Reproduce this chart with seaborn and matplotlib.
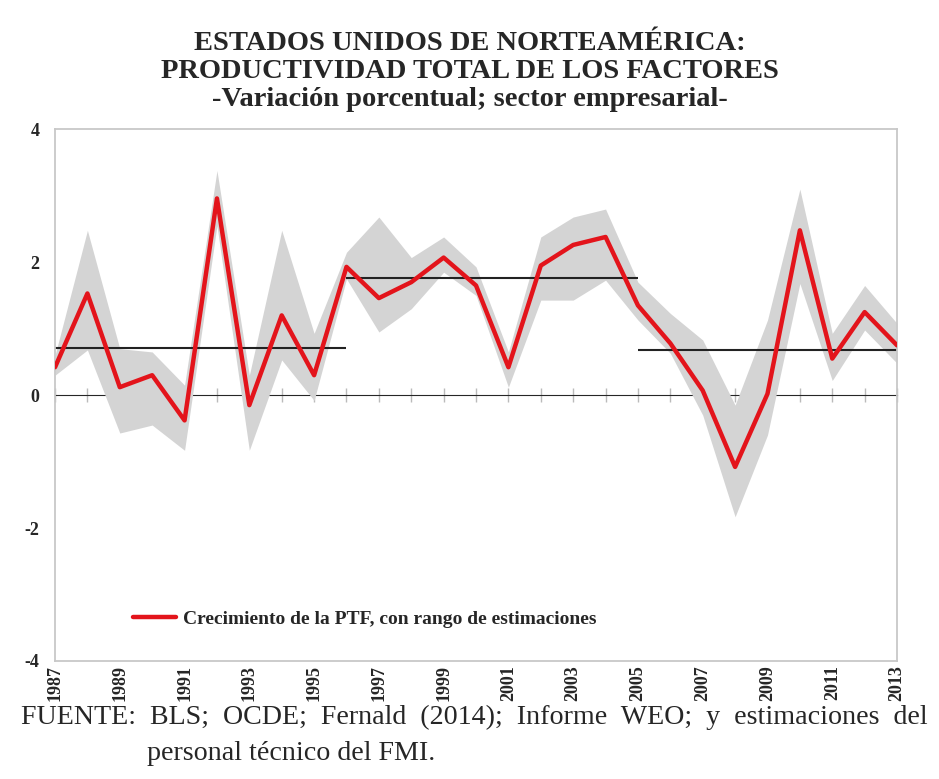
# Estados Unidos: productividad total de los factores (PTF)
import numpy as np
import pandas as pd
import matplotlib
matplotlib.use("Agg")
import matplotlib.pyplot as plt
import seaborn as sns

# ---- data ----
years = list(range(1987, 2014))
ptf = [0.42, 1.53, 0.12, 0.30, -0.38, 2.96, -0.15, 1.20, 0.30, 1.93,
       1.46, 1.70, 2.07, 1.65, 0.42, 1.95, 2.26, 2.38, 1.35, 0.78,
       0.07, -1.08, 0.02, 2.48, 0.55, 1.25, 0.75]
band_hi = [0.60, 2.48, 0.70, 0.65, 0.15, 3.38, 0.30, 2.48, 0.93, 2.15,
           2.68, 2.07, 2.38, 1.93, 0.65, 2.38, 2.68, 2.80, 1.70, 1.23,
           0.83, -0.15, 1.13, 3.10, 0.93, 1.65, 1.08]
band_lo = [0.30, 0.68, -0.57, -0.45, -0.83, 2.55, -0.83, 0.53, -0.08, 1.75,
           0.95, 1.30, 1.85, 1.50, 0.12, 1.43, 1.43, 1.73, 1.13, 0.63,
           -0.30, -1.83, -0.60, 1.68, 0.22, 0.98, 0.48]

# average growth by period
period_start = [1987, 1996, 2005]
period_end = [1996, 2005, 2013]
period_mean = [0.71, 1.76, 0.68]

tick_years = list(range(1987, 2014, 2))

df = pd.DataFrame({"year": years, "ptf": ptf, "hi": band_hi, "lo": band_lo})

# ---- plot ----
sns.set_style("white")
plt.rcParams["font.family"] = ["Liberation Serif", "DejaVu Serif"]

fig = plt.figure(figsize=(9.39, 7.79), dpi=100)
ax = fig.add_axes([0.0586, 0.1515, 0.8967, 0.6825])

ax.fill_between(df["year"], df["lo"], df["hi"], color="#d4d4d4", lw=0, zorder=1)

for x0, x1, m in zip(period_start, period_end, period_mean):
    ax.hlines(m, x0, x1, color="#222222", lw=1.5, zorder=2)

sns.lineplot(data=df, x="year", y="ptf", ax=ax, color="#e3141b", lw=3.2,
             label="Crecimiento de la PTF, con rango de estimaciones", zorder=3)

ax.set_xlim(1987, 2013)
ax.set_ylim(-4, 4)
ax.set_xlabel("")
ax.set_ylabel("")

ax.set_yticks([-4, -2, 0, 2, 4])
ax.set_yticklabels(["-4", "-2", "0", "2", "4"], fontsize=13, fontweight="bold")
ax.set_xticks(tick_years)
ax.set_xticklabels([str(y) for y in tick_years], rotation=90, fontsize=13,
                   fontweight="bold")
ax.tick_params(axis="both", length=0, pad=3)
ax.tick_params(axis="y", pad=11)

for s in ax.spines.values():
    s.set_color("#c8c8c8")
    s.set_linewidth(1.3)

# zero line with yearly ticks
zero = ax.secondary_xaxis(0.5)
zero.set_xticks(years)
zero.set_xticklabels([])
zero.tick_params(direction="inout", length=10, width=1, color="#bbbbbb")
zero.spines["bottom"].set_color("#bbbbbb")
zero.spines["bottom"].set_linewidth(1.2)

leg = ax.legend(loc="lower left", bbox_to_anchor=(0.072, 0.03), frameon=False,
                handlelength=2.2, handletextpad=0.35,
                prop={"family": "Liberation Serif", "weight": "bold", "size": 14})

fig.text(0.5, 0.936, "ESTADOS UNIDOS DE NORTEAMÉRICA:", ha="center",
         va="baseline", fontsize=20.5, fontweight="bold")
fig.text(0.5, 0.900, "PRODUCTIVIDAD TOTAL DE LOS FACTORES", ha="center",
         va="baseline", fontsize=20.5, fontweight="bold")
fig.text(0.5, 0.864, "-Variación porcentual; sector empresarial-", ha="center",
         va="baseline", fontsize=20.5, fontweight="bold")

fig.text(0.022, 0.070,
         "FUENTE:  BLS;  OCDE;  Fernald  (2014);  Informe  WEO;  y  estimaciones  del",
         va="baseline", fontsize=20.2)
fig.text(0.157, 0.024, "personal técnico del FMI.", va="baseline", fontsize=20.2)

fig.savefig("out.png", dpi=100)
